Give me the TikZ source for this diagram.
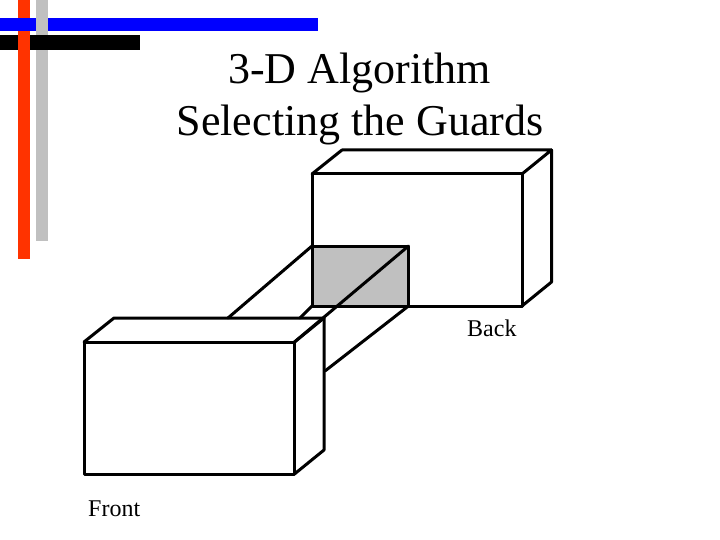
\documentclass[tikz,border=0pt]{standalone}
\usepackage{fontspec}
\setmainfont{Liberation Serif}
\definecolor{barblue}{RGB}{0,0,255}
\definecolor{barred}{RGB}{255,51,0}
\definecolor{bargray}{RGB}{192,192,192}
\tikzset{
  edge/.style={draw=black,line width=3pt,line cap=round,line join=round},
  titletext/.style={font=\fontsize{44}{44}\selectfont,anchor=base,inner sep=0pt},
  labeltext/.style={font=\fontsize{24}{24}\selectfont,anchor=base west,inner sep=0pt}
}
\begin{document}
\begin{tikzpicture}[x=1pt,y=-1pt]
\useasboundingbox (0,0) rectangle (720,540);
\fill[white] (0,0) rectangle (720,540);
% bars
\fill[bargray] (36,0) rectangle (48,241);
\fill[black] (0,35) rectangle (140,50);
\fill[barred] (18,0) rectangle (30,259);
\fill[barblue] (0,18) rectangle (318,31);
\fill[bargray] (36,18) rectangle (48,31);
% coordinates
\coordinate (bA) at (312,174); \coordinate (bB) at (522,174);
\coordinate (bC) at (522,306); \coordinate (bD) at (312,306);
\coordinate (bE) at (342,150); \coordinate (bF) at (551.5,150);
\coordinate (bG) at (551.5,282);
\coordinate (gA) at (312,246); \coordinate (gB) at (408.5,246);
\coordinate (gC) at (408.5,306);
\coordinate (fA) at (84,342); \coordinate (fB) at (294.5,342);
\coordinate (fC) at (294.5,474); \coordinate (fD) at (84,474);
\coordinate (fE) at (114,318); \coordinate (fF) at (324,318);
\coordinate (fG) at (324,450);
\coordinate (t1) at (228,318); \coordinate (t2) at (300,318);
\coordinate (t3) at (325,371);
% back box
\fill[bargray] (gA) -- (gB) -- (gC) -- (bD) -- cycle;
\draw[edge] (bA) -- (bB) -- (bC) -- (bD) -- cycle;
\draw[edge] (bA) -- (bE) -- (bF) -- (bB);
\draw[edge] (bF) -- (bG) -- (bC);
\draw[edge] (gA) -- (gB) -- (gC);
% tunnel
\draw[edge] (gA) -- (t1);
\draw[edge] (bD) -- (t2);
\draw[edge] (gC) -- (t3);
\draw[edge] (gB) -- (fB);
% front box
\draw[edge] (fA) -- (fB) -- (fC) -- (fD) -- cycle;
\draw[edge] (fA) -- (fE) -- (fF) -- (fB);
\draw[edge] (fF) -- (fG) -- (fC);
% text
\node[titletext] (t) at (359.5,84) {3-D Algorithm};
\node[titletext] (s) at (360,136) {Selecting the Guards};
\node[labeltext] (back) at (467,336) {Back};
\node[labeltext] (front) at (88,516) {Front};
\end{tikzpicture}
\end{document}
